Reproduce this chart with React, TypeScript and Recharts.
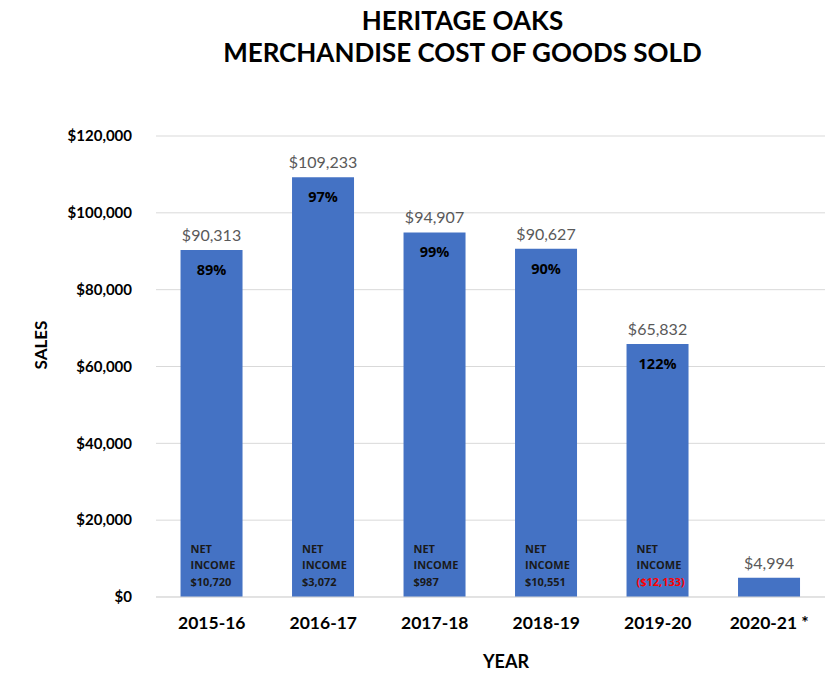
import { BarChart, Bar, XAxis, YAxis, CartesianGrid, LabelList } from "recharts";

const years = ["2015-16", "2016-17", "2017-18", "2018-19", "2019-20", "2020-21 *"];
const sales = [90313, 109233, 94907, 90627, 65832, 4994];
const cogsPct = ["89%", "97%", "99%", "90%", "122%", ""];
const netIncome = [10720, 3072, 987, 10551, -12133, null];
const yTicks = [0, 20000, 40000, 60000, 80000, 100000, 120000];

const data = years.map((year, i) => ({
  year,
  sales: sales[i],
  pct: cogsPct[i],
  net: netIncome[i],
}));

const money = (v: number) => `$${v.toLocaleString("en-US")}`;
const geo = "Lato, 'DejaVu Sans', sans-serif";
const calibri = "'Open Sans', 'Liberation Sans', sans-serif";

function PctLabel(props: any) {
  const { x, y, width, value } = props;
  if (!value) return null;
  return (
    <text x={x + width / 2} y={y + 25} textAnchor="middle" fontFamily={calibri} fontWeight={700} fontSize={14.5} fill="#000">
      {value}
    </text>
  );
}

function NetLabel(props: any) {
  const { x, y, height, value } = props;
  if (value === null || value === undefined) return null;
  const base = y + height;
  const neg = value < 0;
  const amount = neg ? `($${Math.abs(value).toLocaleString("en-US")})` : money(value);
  return (
    <g fontFamily={calibri} fontWeight={700} fontSize={11}>
      <text x={x + 10} y={base - 44} fill="#1a1a1a">NET</text>
      <text x={x + 10} y={base - 28} fill="#1a1a1a">INCOME</text>
      <text x={x + 10} y={base - 11} fill={neg ? "#ff0000" : "#1a1a1a"}>{amount}</text>
    </g>
  );
}

export default function App() {
  return (
    <div style={{ position: "absolute", left: 0, top: 0, width: 825, height: 676, background: "#fff" }}>
      <div
        style={{
          position: "absolute",
          top: 4,
          left: 0,
          width: 925,
          textAlign: "center",
          fontFamily: geo,
          fontWeight: 700,
          fontSize: 26,
          lineHeight: "32px",
          color: "#000",
        }}
      >
        HERITAGE OAKS
        <br />
        MERCHANDISE COST OF GOODS SOLD
      </div>
      <BarChart
        width={825}
        height={676}
        data={data}
        margin={{ top: 136, right: 0, bottom: 4, left: 56 }}
        barCategoryGap="22%"
      >
        <CartesianGrid vertical={false} stroke="#d9d9d9" />
        <XAxis
          dataKey="year"
          height={75}
          tickLine={false}
          axisLine={{ stroke: "#d9d9d9" }}
          tick={{ fontFamily: geo, fontWeight: 700, fontSize: 17.5, fill: "#000" }}
          tickMargin={14}
          label={({ viewBox }: any) => (
            <text x={506} y={viewBox.y + 71} textAnchor="middle" fontFamily={geo} fontWeight={700} fontSize={18} fill="#000">
              YEAR
            </text>
          )}
        />
        <YAxis
          width={100}
          domain={[0, 120000]}
          ticks={yTicks}
          tickLine={false}
          axisLine={false}
          tickFormatter={money}
          tick={{ fontFamily: geo, fontWeight: 700, fontSize: 15, fill: "#000" }}
          tickMargin={18}
          label={() => (
            <text x={47} y={345} textAnchor="middle" transform="rotate(-90 47 345)" fontFamily={geo} fontWeight={700} fontSize={17} fill="#000">
              SALES
            </text>
          )}
        />
        <Bar dataKey="sales" fill="#4472c4" isAnimationActive={false}>
          <LabelList dataKey="sales" position="top" offset={9} formatter={(v: any) => money(v)} fill="#595959" fontFamily={geo} fontSize={16} />
          <LabelList dataKey="pct" content={PctLabel} />
          <LabelList dataKey="net" content={NetLabel} />
        </Bar>
      </BarChart>
    </div>
  );
}
